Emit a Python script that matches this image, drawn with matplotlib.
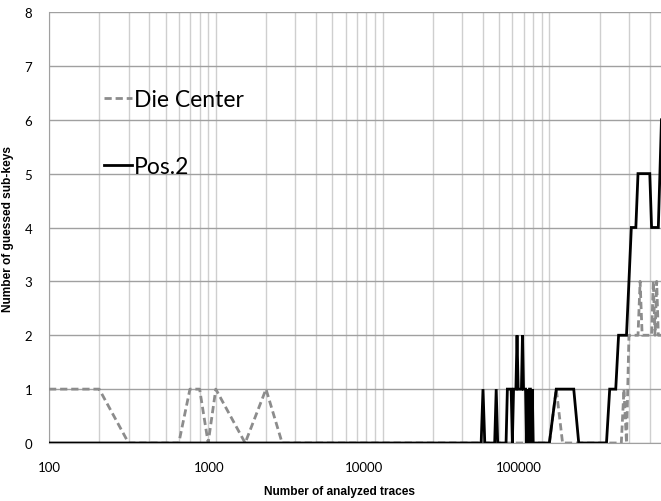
import matplotlib
matplotlib.use("Agg")
import matplotlib.pyplot as plt
import matplotlib.transforms as mtransforms
from matplotlib.ticker import LogLocator, NullFormatter, FixedLocator, FixedFormatter

# ---- data ----
die_center_x = [100, 200, 300, 600, 700, 800, 900, 1000, 1500, 2000, 2500,
                100000, 110000, 120000, 270000, 280000, 290000, 300000,
                340000, 350000, 360000, 410000, 420000, 430000, 440000,
                450000, 470000]
die_center_y = [1, 1, 0, 0, 1, 1, 0, 1, 0, 1, 0,
                0, 1, 0, 0, 1, 0, 2,
                2, 3, 2, 2, 3, 2, 3,
                2, 2]

pos2_x = [100, 39000, 40000, 41000, 47000, 48000, 49000, 55000, 56000, 59000,
          60000, 61000, 63000, 64000, 65000, 68000, 69000, 70000, 72000, 73000,
          74000, 75000, 76000, 77000, 78000, 79000, 80000, 100000, 110000,
          140000, 150000, 220000, 230000, 250000, 260000, 290000, 300000,
          310000, 330000, 340000, 400000, 410000, 450000, 460000, 470000]
pos2_y = [0, 0, 1, 0, 0, 1, 0, 0, 1, 1,
          0, 1, 1, 2, 1, 1, 2, 1, 1, 0,
          1, 0, 1, 1, 0, 1, 0, 0, 1,
          1, 0, 0, 1, 1, 2, 2, 3,
          4, 4, 5, 5, 4, 4, 5, 6]

x_ticks = [100, 1000, 10000, 100000]
x_tick_labels = ["100", "1000", "10000", "100000"]
y_ticks = [0, 1, 2, 3, 4, 5, 6, 7, 8]

plt.rcParams['font.family'] = ['Lato', 'DejaVu Sans']

fig = plt.figure(figsize=(6.61, 5.02), dpi=100)
ax = fig.add_axes([49/661, 58/502, 612/661, 431/502])

ax.plot(die_center_x, die_center_y, color="#8c8c8c", lw=2.0,
        linestyle=(0, (2.6, 1.4)), label="Die Center", zorder=3)
ax.plot(pos2_x, pos2_y, color="black", lw=2.0, label="Pos.2", zorder=4,
        solid_joinstyle="miter")

ax.set_xscale("log")
ax.set_xlim(100, 467000)
ax.set_ylim(0, 8)

ax.xaxis.set_major_locator(FixedLocator(x_ticks))
ax.xaxis.set_major_formatter(FixedFormatter(x_tick_labels))
ax.xaxis.set_minor_locator(LogLocator(base=10, subs=range(2, 10), numticks=20))
ax.xaxis.set_minor_formatter(NullFormatter())
ax.set_yticks(y_ticks)

ax.grid(True, which="both", axis="x", color="#cfcfcf", lw=1.0, zorder=0)
ax.grid(True, which="major", axis="y", color="#a0a0a0", lw=1.0, zorder=0)
ax.set_axisbelow(True)

ax.tick_params(axis="both", which="both", length=0, labelsize=9.5, colors="#000000")
ax.tick_params(axis="x", pad=13)
ax.tick_params(axis="y", pad=12)

# Excel-style label placement: labels drift left of their gridlines
label_shift_px = [0, -7, -19, -31]
for lbl, dx in zip(ax.get_xticklabels(), label_shift_px):
    lbl.set_transform(lbl.get_transform() +
                      mtransforms.ScaledTranslation(dx / 100, 0, fig.dpi_scale_trans))

for side in ["top", "right"]:
    ax.spines[side].set_visible(False)
ax.spines["left"].set_color("#a0a0a0")
ax.spines["bottom"].set_color("#a0a0a0")

lab_font = dict(family=['Liberation Sans', 'DejaVu Sans'], fontsize=8.6, fontweight="bold")
ax.set_xlabel("Number of analyzed traces", **lab_font)
ax.set_ylabel("Number of guessed sub-keys", **lab_font)
ax.xaxis.set_label_coords(0.475, -0.098)
ax.yaxis.set_label_coords(-0.057, 0.5)

leg = ax.legend(loc="upper left", bbox_to_anchor=(0.0899, 0.821), frameon=False,
                fontsize=16.5, handlelength=1.2, handletextpad=0.1,
                labelspacing=2.0, borderpad=0, borderaxespad=0)

fig.savefig("out.png", dpi=100)
